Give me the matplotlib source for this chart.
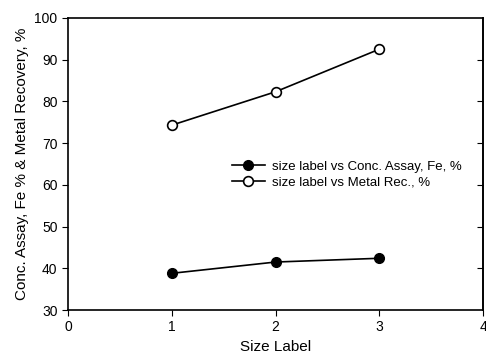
import matplotlib.pyplot as plt

plt.rcParams["font.family"] = ["Liberation Sans", "DejaVu Sans"]

size_label = [1, 2, 3]
conc_assay = [38.8, 41.5, 42.4]
metal_rec = [74.3, 82.3, 92.5]

fig = plt.figure(figsize=(4.86, 3.58), dpi=100)
ax = fig.add_axes([0.14, 0.134, 0.854, 0.816])

ax.plot(size_label, conc_assay, color="black", lw=1.2, marker="o", ms=7,
        mfc="black", mec="black", label="size label vs Conc. Assay, Fe, %")
ax.plot(size_label, metal_rec, color="black", lw=1.2, marker="o", ms=7,
        mfc="white", mec="black", mew=1.2, label="size label vs Metal Rec., %")

ax.set_xlim(0, 4)
ax.set_ylim(30, 100)
ax.set_xticks([0, 1, 2, 3, 4])
ax.set_yticks(range(30, 101, 10))
ax.tick_params(direction="out", length=4, labelsize=10)
for s in ax.spines.values():
    s.set_linewidth(1.2)

# right side: inward ticks, no labels
sec = ax.secondary_yaxis("right")
sec.set_yticks(range(40, 91, 10))
sec.tick_params(direction="in", length=4, labelright=False)
sec.spines["right"].set_linewidth(1.2)

ax.set_xlabel("Size Label", fontsize=11)
ax.set_ylabel("Conc. Assay, Fe % & Metal Recovery, %", fontsize=11)

ax.legend(loc="upper left", bbox_to_anchor=(0.395, 0.511), frameon=False,
          fontsize=9.5, handlelength=2.5, handletextpad=0.5,
          labelspacing=0.25, borderpad=0, borderaxespad=0)

fig.savefig("out.png")
